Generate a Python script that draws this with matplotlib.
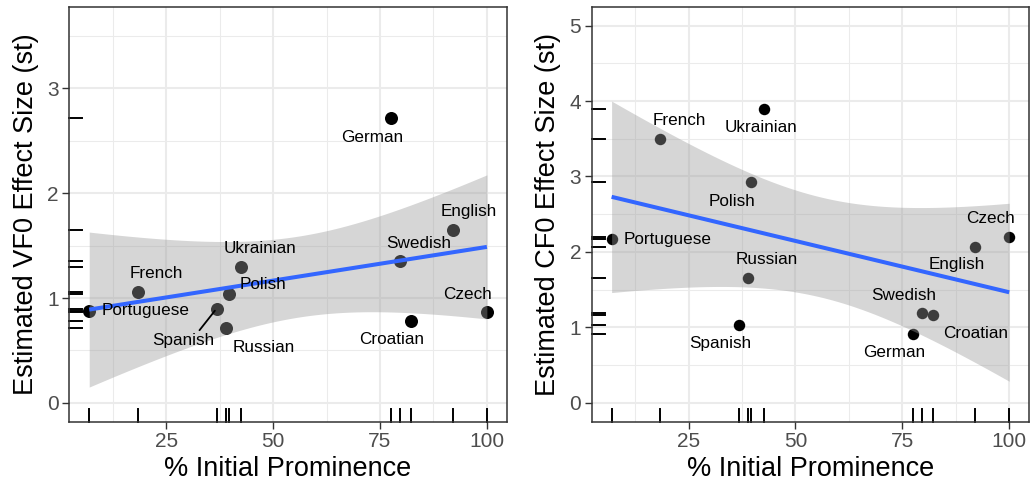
import numpy as np
import matplotlib
matplotlib.use("Agg")
import matplotlib.pyplot as plt
from matplotlib.ticker import MultipleLocator

plt.rcParams["font.family"] = ["Liberation Sans", "DejaVu Sans"]

# ── Data ─────────────────────────────────────────────────────────────────────
languages = ["Portuguese", "French", "Spanish", "Russian", "Polish", "Ukrainian",
             "German", "Swedish", "Croatian", "English", "Czech"]
prominence = [7.0, 18.3, 36.8, 38.95, 39.7, 42.6, 77.6, 79.7, 82.2, 92.1, 100.0]
vf0_effect = [0.876, 1.06, 0.90, 0.71, 1.034, 1.30, 2.714, 1.355, 0.784, 1.65, 0.863]
cf0_effect = [2.17, 3.50, 1.035, 1.66, 2.92, 3.90, 0.91, 1.19, 1.16, 2.07, 2.20]

# label offsets from the point, in pixels (dx right, dy up)
vf0_offsets = {
    "Portuguese": (56, 1), "French": (19, 18), "Spanish": (-33, -32),
    "Russian": (38, -19), "Polish": (34, 10), "Ukrainian": (19, 18),
    "German": (-19, -19), "Swedish": (19, 17), "Croatian": (-19, -19),
    "English": (16, 18), "Czech": (-19, 18),
}
cf0_offsets = {
    "Portuguese": (56, 0), "French": (19, 18), "Spanish": (-19, -19),
    "Russian": (19, 18), "Polish": (-19, -19), "Ukrainian": (-3, -19),
    "German": (-19, -18), "Swedish": (-19, 18), "Croatian": (43, -18),
    "English": (-19, -18), "Czech": (-19, 18),
}

T_975_9 = 2.262157  # t quantile for 95% CI, n - 2 = 9 df
PX = 0.72           # points per pixel at dpi 100


def lm_band(x, y, n_grid=80):
    x = np.asarray(x)
    y = np.asarray(y)
    slope, icpt = np.polyfit(x, y, 1)
    resid = y - (icpt + slope * x)
    s = np.sqrt(np.sum(resid ** 2) / (len(x) - 2))
    xg = np.linspace(x.min(), x.max(), n_grid)
    fit = icpt + slope * xg
    se = s * np.sqrt(1 / len(x) + (xg - x.mean()) ** 2 / np.sum((x - x.mean()) ** 2))
    return xg, fit, fit - T_975_9 * se, fit + T_975_9 * se


def panel(ax, y, offsets, ylim, ymax_tick, ylabel, msize):
    xg, fit, lo, hi = lm_band(prominence, y)
    ax.scatter(prominence, y, s=msize, color="black", zorder=2, linewidths=0)
    ax.fill_between(xg, lo, hi, color="#999999", alpha=0.4, linewidth=0, zorder=3)
    ax.plot(xg, fit, color="#3366FF", linewidth=2.9, zorder=4, solid_capstyle="butt")

    # rugs
    for xv in prominence:
        ax.plot([xv, xv], [0, 0.03], transform=ax.get_xaxis_transform(),
                color="black", linewidth=1.4, zorder=5, clip_on=False)
    for yv in y:
        ax.plot([0, 0.03], [yv, yv], transform=ax.get_yaxis_transform(),
                color="black", linewidth=1.4, zorder=5, clip_on=False)

    for lang, xv, yv in zip(languages, prominence, y):
        dx, dy = offsets[lang]
        kw = {}
        if lang == "Spanish" and ylabel.startswith("Estimated VF0"):
            kw["arrowprops"] = dict(arrowstyle="-", color="black", lw=1.3,
                                    shrinkA=0, shrinkB=2, relpos=(0.72, 1.0))
        ax.annotate(lang, (xv, yv), xytext=(dx * PX, dy * PX), textcoords="offset points",
                    ha="center", va="center", fontsize=12.3, color="black", zorder=6, **kw)

    ax.set_xlim(2.35, 104.65)
    ax.set_ylim(*ylim)
    ax.xaxis.set_major_locator(MultipleLocator(25))
    ax.xaxis.set_minor_locator(MultipleLocator(12.5))
    ax.set_yticks(np.arange(0, ymax_tick + 1, 1))
    ax.yaxis.set_minor_locator(MultipleLocator(0.5))
    ax.grid(which="major", color="#ebebeb", linewidth=1.45, zorder=0)
    ax.grid(which="minor", color="#ebebeb", linewidth=0.75, zorder=0)
    ax.set_axisbelow(True)
    ax.tick_params(which="major", direction="out", length=4.7, width=1.0, color="#333333",
                   labelsize=15, labelcolor="#4d4d4d", pad=3)
    ax.tick_params(which="minor", length=0)
    for sp in ax.spines.values():
        sp.set_color("#333333")
        sp.set_linewidth(1.1)
        sp.set_zorder(7)
    ax.set_xlabel("% Initial Prominence", fontsize=19.5, labelpad=3)
    ax.set_ylabel(ylabel, fontsize=19.5, labelpad=6)


fig = plt.figure(figsize=(10.3, 4.88), dpi=100)
ax1 = fig.add_axes([0.0673, 0.1359, 0.4247, 0.8504])
ax2 = fig.add_axes([0.5745, 0.1359, 0.4246, 0.8504])

panel(ax1, vf0_effect, vf0_offsets, (-0.18, 3.78), 3, "Estimated VF0 Effect Size (st)", 88)
panel(ax2, cf0_effect, cf0_offsets, (-0.25, 5.25), 5, "Estimated CF0 Effect Size (st)", 68)

fig.savefig("out.png", dpi=100)
